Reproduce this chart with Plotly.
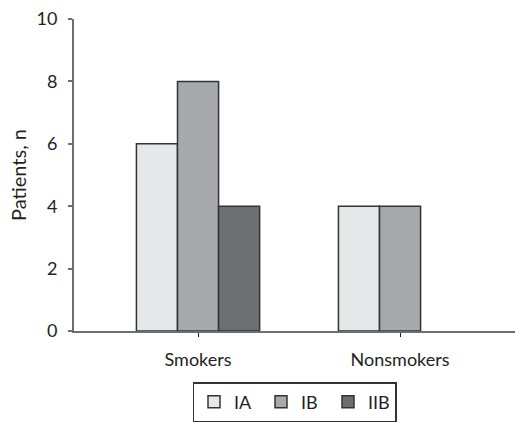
import plotly.graph_objects as go

categories = ["Smokers", "Nonsmokers"]
series_names = ["IA", "IB", "IIB"]
ia_values = [6, 4]
ib_values = [8, 4]
iib_values = [4, None]
y_ticks = [0, 2, 4, 6, 8, 10]

colors = ["#e6e7e9", "#a7a9ac", "#6d6e71"]
values = [ia_values, ib_values, iib_values]

fig = go.Figure()
for name, vals, col in zip(series_names, values, colors):
    fig.add_trace(go.Bar(
        name=name, x=categories, y=vals,
        marker=dict(color=col, line=dict(color="#333333", width=1.5)),
    ))

font_family = "Lato, Open Sans, sans-serif"
fig.update_layout(
    width=517, height=424,
    margin=dict(l=74, r=2, t=19, b=93),
    plot_bgcolor="white", paper_bgcolor="white",
    barmode="group", bargap=0.39, bargroupgap=0,
    font=dict(family=font_family, size=18, color="#231f20"),
    showlegend=True,
    legend=dict(
        orientation="h", x=0.5, xanchor="center", y=-0.1635, yanchor="top",
        bordercolor="#333333", borderwidth=1.5,
        font=dict(size=18), itemwidth=30,
        entrywidth=22, entrywidthmode="pixels",
        traceorder="normal",
    ),
    xaxis=dict(
        range=[-0.614, 1.569], automargin=False,
        showline=True, linecolor="#6d6e71", linewidth=2,
        ticks="outside", ticklen=4, tickcolor="#231f20", tickwidth=1,
        ticklabelstandoff=7, tickfont=dict(size=18),
        showgrid=False, zeroline=False,
    ),
    yaxis=dict(
        range=[0, 10], tickvals=y_ticks, automargin=False,
        showline=True, linecolor="#6d6e71", linewidth=2,
        ticks="outside", ticklen=4, tickcolor="#6d6e71", tickwidth=1.5,
        ticklabelstandoff=7, tickfont=dict(size=18),
        showgrid=False, zeroline=False,
        title=dict(text="Patients, n", standoff=5, font=dict(size=20)),
    ),
)

fig.write_html(
    "out.html",
    config={"displayModeBar": False},
    post_script="document.body.style.margin='0';",
)
